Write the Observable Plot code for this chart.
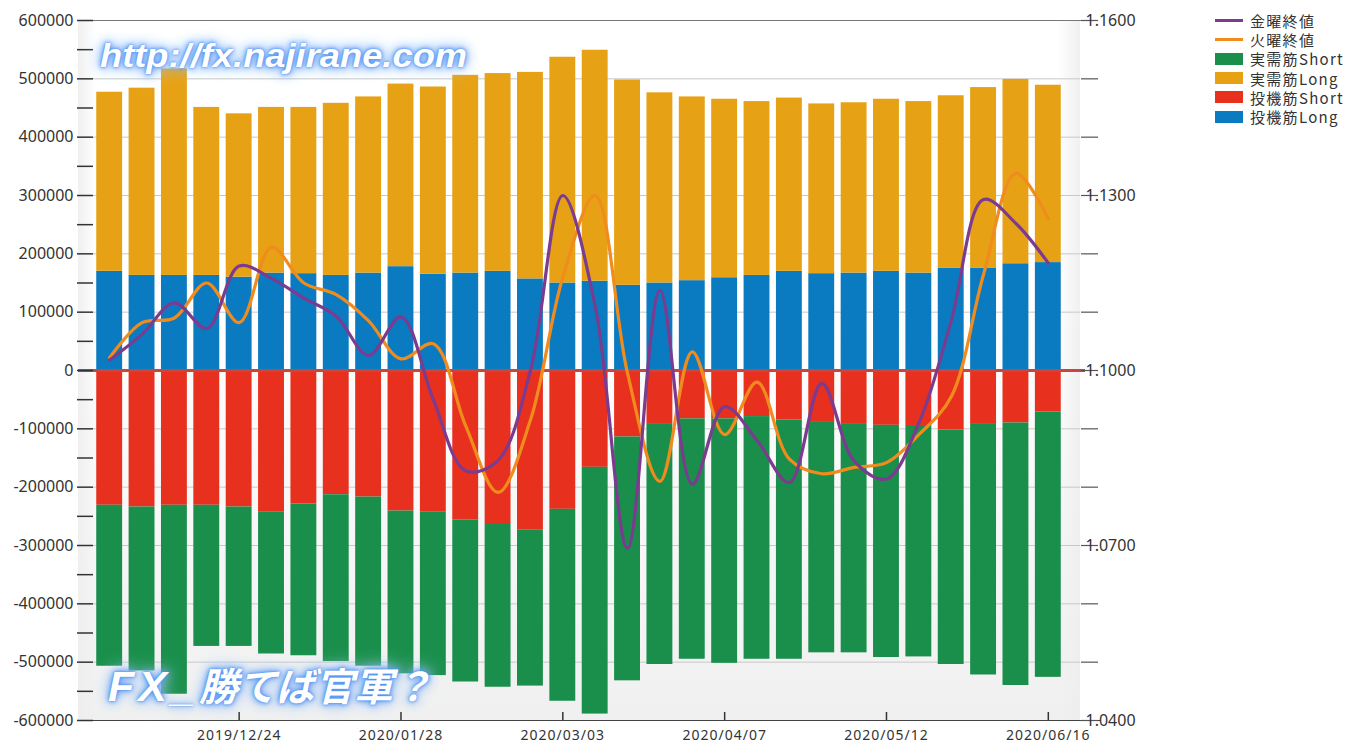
<!DOCTYPE html>
<html>
<head>
<meta charset="utf-8">
<script src="https://cdn.jsdelivr.net/npm/d3@7"></script>
<script src="https://cdn.jsdelivr.net/npm/@observablehq/plot@0.6"></script>
<style>
  html, body { margin: 0; padding: 0; background: #fff; }
  #wrap { position: relative; width: 1354px; height: 744px; overflow: hidden; font-family: "Noto Sans", sans-serif; }
  #bg { position: absolute; left: 78px; top: 20px; width: 1002px; height: 700px;
        background: linear-gradient(to right, rgba(238,238,238,0.9) 0px, rgba(255,255,255,0) 18px, rgba(255,255,255,0) 980px, rgba(238,238,238,0.9) 1002px),
                    linear-gradient(to bottom, #ffffff 0%, #ffffff 40%, #f0f0f0 100%); }
  #chart { position: absolute; left: 0; top: 0; }
  #chart svg [aria-label="x-axis tick label"] text { letter-spacing: 1px; }
  .legend { position: absolute; left: 1215px; top: 11px; font-family: "Noto Sans CJK JP", sans-serif; font-size: 15px; color: #333; letter-spacing: 1.3px; }
  .legend .row { height: 19.2px; display: flex; align-items: center; white-space: nowrap; }
  .legend .sw { width: 28px; margin-right: 7px; flex: none; }
  .wm { position: absolute; color: #fff; font-weight: bold; font-style: italic; white-space: nowrap; transform-origin: 0 0;
        text-shadow: 0 0 2px #4a8ff2, 0 0 5px #4a8ff2, 0 0 9px #6ea6f5, 0 0 14px #9cc4f8, 0 0 20px #c4dcfb; }
  #wm1 { left: 100px; top: 37px; font-family: "Liberation Sans", sans-serif; font-size: 33px; transform: scaleX(1.1); }
  #wm2 { left: 108px; top: 661px; font-family: "Noto Sans CJK JP", sans-serif; font-size: 39px; line-height: 46px; }
  #wm2 .lat { font-family: "Liberation Sans", sans-serif; font-size: 43px; letter-spacing: 4px; }
</style>
</head>
<body>
<div id="wrap">
  <div id="bg"></div>
  <div id="chart"></div>
  <div class="legend" id="legend"></div>
  <div class="wm" id="wm1">http://fx.najirane.com</div>
  <div class="wm" id="wm2"><span class="lat">FX_</span>勝てば官軍？</div>
</div>
<script>
// ---- data ----
const dates = [
  "2019/11/26","2019/12/03","2019/12/10","2019/12/17","2019/12/24","2019/12/31",
  "2020/01/07","2020/01/14","2020/01/21","2020/01/28","2020/02/04","2020/02/11",
  "2020/02/18","2020/02/25","2020/03/03","2020/03/10","2020/03/17","2020/03/24",
  "2020/03/31","2020/04/07","2020/04/14","2020/04/21","2020/04/28","2020/05/05",
  "2020/05/12","2020/05/19","2020/05/26","2020/06/02","2020/06/09","2020/06/16"
];
const xTickLabels = ["2019/12/24","2020/01/28","2020/03/03","2020/04/07","2020/05/12","2020/06/16"];

// 投機筋Long (blue)
const specLong = [170000,163000,163000,163000,160000,167000,166000,163000,167000,178000,
                  165000,167000,170000,157000,150000,153000,146000,150000,154000,159000,
                  163000,170000,166000,167000,170000,167000,175000,175000,183000,185000];
// 実需筋Long (orange)
const commLong = [307000,321000,354000,288000,280000,284000,285000,295000,302000,313000,
                  321000,339000,339000,354000,387000,396000,352000,326000,315000,306000,
                  298000,297000,291000,292000,295000,294000,296000,310000,316000,304000];
// 投機筋Short (red)
const specShort = [-231000,-234000,-231000,-231000,-234000,-243000,-229000,-213000,-217000,-241000,
                   -243000,-256000,-264000,-273000,-238000,-166000,-114000,-91000,-83000,-83000,
                   -79000,-85000,-89000,-91000,-94000,-96000,-102000,-91000,-90000,-71000];
// 実需筋Short (green)
const commShort = [-276000,-281000,-324000,-242000,-239000,-243000,-260000,-286000,-290000,-279000,
                   -280000,-278000,-279000,-268000,-329000,-423000,-418000,-413000,-412000,-419000,
                   -416000,-410000,-395000,-393000,-398000,-395000,-402000,-431000,-450000,-455000];
// 金曜終値 (purple)
const fridayClose = [1.1018,1.1062,1.1116,1.1072,1.1179,1.1158,1.1124,1.1093,1.1026,1.1092,
                     1.0950,1.0828,1.0846,1.1000,1.1300,1.1110,1.0695,1.1138,1.0805,1.0938,
                     1.0880,1.0808,1.0978,1.0845,1.0814,1.0910,1.1085,1.1293,1.1252,1.1184];
// 火曜終値 (orange line)
const tuesdayClose = [1.1022,1.1082,1.1090,1.1150,1.1082,1.1211,1.1150,1.1130,1.1085,1.1020,
                      1.1046,1.0905,1.0791,1.0915,1.1160,1.1300,1.0995,1.0810,1.1032,1.0890,
                      1.0980,1.0848,1.0823,1.0834,1.0842,1.0890,1.0955,1.1165,1.1338,1.1260];

const seriesNames  = ["投機筋Long","実需筋Long","投機筋Short","実需筋Short"];
const seriesColors = ["#0b7bc1","#e7a114","#e8301f","#1a8f4c"];
const lineColors = ["#7b3b8f","#f08c1e"];
const legendOrder = [
  {name:"金曜終値", color:"#7b3b8f", type:"line"},
  {name:"火曜終値", color:"#f08c1e", type:"line"},
  {name:"実需筋Short", color:"#1a8f4c", type:"rect"},
  {name:"実需筋Long", color:"#e7a114", type:"rect"},
  {name:"投機筋Short", color:"#e8301f", type:"rect"},
  {name:"投機筋Long", color:"#0b7bc1", type:"rect"}
];
const leftMajor = [600000,500000,400000,300000,200000,100000,0,-100000,-200000,-300000,-400000,-500000,-600000];
const rightLabels = {"600000":"1.1600","300000":"1.1300","0":"1.1000","-300000":"1.0700","-600000":"1.0400"};

// ---- build tables ----
const rows = dates.flatMap((d, i) => [
  {date: d, series: "投機筋Long",  value: specLong[i]},
  {date: d, series: "実需筋Long",  value: commLong[i]},
  {date: d, series: "投機筋Short", value: specShort[i]},
  {date: d, series: "実需筋Short", value: commShort[i]}
]);
// right axis: price mapped onto left scale (0.01 = 100000, 1.1000 = 0)
const toY = p => (p - 1.10) * 1e7;
const friRows = dates.map((d, i) => ({date: d, y: toY(fridayClose[i])}));
const tueRows = dates.map((d, i) => ({date: d, y: toY(tuesdayClose[i])}));

const leftAll = d3.range(-600000, 600001, 50000);
const rightAll = d3.range(-600000, 600001, 100000);
const gridVals = leftMajor.filter(v => v !== 0 && v !== -600000 && v !== 600000);

const chart = Plot.plot({
  width: 1354,
  height: 744,
  marginTop: 20,
  marginBottom: 24,
  marginLeft: 93,
  marginRight: 274,
  style: {fontFamily: "'Noto Sans', sans-serif", fontSize: "15px", background: "transparent", color: "#333"},
  x: {type: "band", domain: dates, paddingInner: 0.2, paddingOuter: 0.1, insetRight: 16, round: false, label: null},
  y: {domain: [-600000, 600000], label: null},
  color: {domain: seriesNames, range: seriesColors, legend: false},
  marks: [
    Plot.ruleY(gridVals, {stroke: "#c8c8c8", strokeWidth: 1}),
    Plot.ruleY([600000], {stroke: "#777", strokeWidth: 1, insetLeft: -15, insetRight: -10}),
    Plot.barY(rows, {x: "date", y: "value", fill: "series"}),
    Plot.ruleY([-600000], {stroke: "#444", strokeWidth: 1.2, insetLeft: -15, insetRight: -20}),
    Plot.ruleY([0], {stroke: "#c9463f", strokeWidth: 3, insetLeft: -15, insetRight: -5}),
    Plot.line(tueRows, {x: "date", y: "y", curve: "catmull-rom", stroke: lineColors[1], strokeWidth: 3.2, strokeLinejoin: "round", strokeLinecap: "round"}),
    Plot.line(friRows, {x: "date", y: "y", curve: "catmull-rom", stroke: lineColors[0], strokeWidth: 3.2, strokeLinejoin: "round", strokeLinecap: "round"}),
    Plot.axisY({anchor: "left", label: null, ticks: leftAll, tickSize: 16, tickPadding: 4, strokeWidth: 1.5, stroke: "#333",
                fontSize: 16, fill: "#333",
                tickFormat: d => leftMajor.includes(d) ? String(d) : ""}),
    Plot.axisY({anchor: "right", label: null, ticks: rightAll, tickSize: 17, tickPadding: -12, strokeWidth: 1.2, stroke: "#555",
                fontSize: 16, fill: "#333", textAnchor: "start",
                tickFormat: d => rightLabels[String(d)] ?? ""}),
    Plot.axisX({label: null, ticks: xTickLabels, tickSize: 8, dy: -8, tickFormat: () => "", stroke: "#333", strokeWidth: 1.5}),
    Plot.axisX({label: null, ticks: xTickLabels, tickSize: 0, tickPadding: 10, fontSize: 14, fill: "#333"})
  ]
});
document.getElementById("chart").appendChild(chart);

// legend
const lg = document.getElementById("legend");
for (const item of legendOrder) {
  const row = document.createElement("div");
  row.className = "row";
  const sw = document.createElement("div");
  sw.className = "sw";
  sw.style.background = item.color;
  sw.style.height = item.type === "line" ? "3px" : "12px";
  const t = document.createElement("span");
  t.textContent = item.name;
  row.appendChild(sw);
  row.appendChild(t);
  lg.appendChild(row);
}
</script>
</body>
</html>
